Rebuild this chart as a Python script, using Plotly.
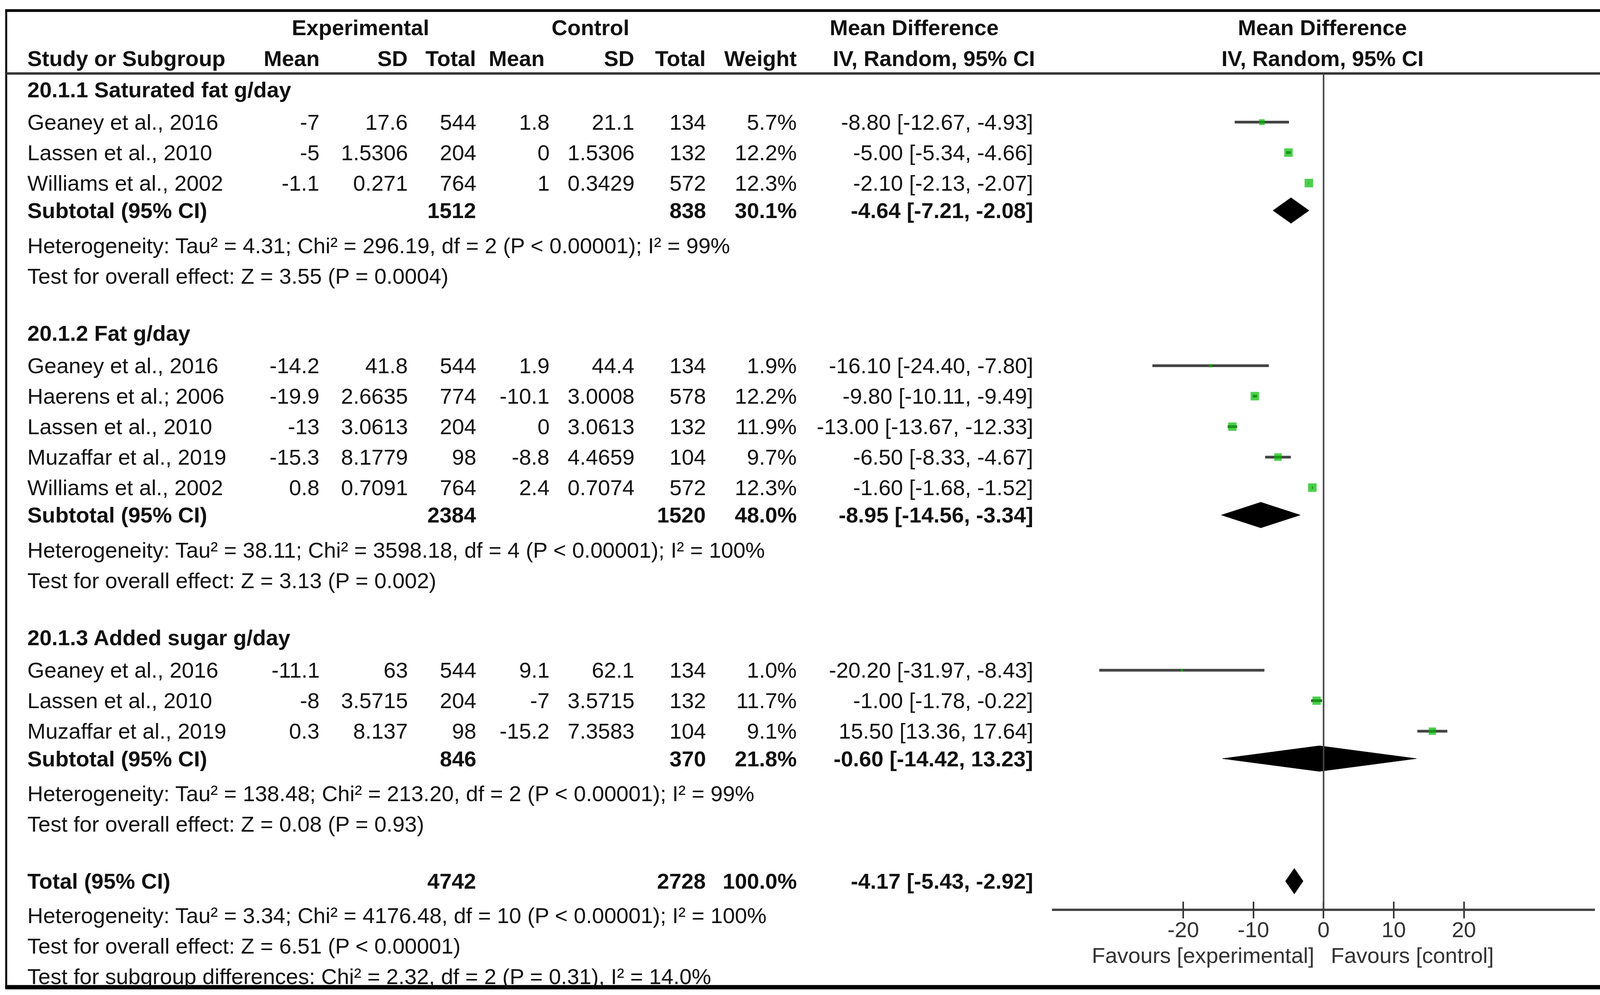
import math
import plotly.graph_objects as go

# ---- data ----
group_titles = ["20.1.1 Saturated fat g/day", "20.1.2 Fat g/day", "20.1.3 Added sugar g/day"]

study_group = [0, 0, 0, 1, 1, 1, 1, 1, 2, 2, 2]
study_names = [
    "Geaney et al., 2016", "Lassen et al., 2010", "Williams et al., 2002",
    "Geaney et al., 2016", "Haerens et al.; 2006", "Lassen et al., 2010",
    "Muzaffar et al., 2019", "Williams et al., 2002",
    "Geaney et al., 2016", "Lassen et al., 2010", "Muzaffar et al., 2019",
]
exp_mean = [-7, -5, -1.1, -14.2, -19.9, -13, -15.3, 0.8, -11.1, -8, 0.3]
exp_sd = [17.6, 1.5306, 0.271, 41.8, 2.6635, 3.0613, 8.1779, 0.7091, 63, 3.5715, 8.137]
exp_n = [544, 204, 764, 544, 774, 204, 98, 764, 544, 204, 98]
ctl_mean = [1.8, 0, 1, 1.9, -10.1, 0, -8.8, 2.4, 9.1, -7, -15.2]
ctl_sd = [21.1, 1.5306, 0.3429, 44.4, 3.0008, 3.0613, 4.4659, 0.7074, 62.1, 3.5715, 7.3583]
ctl_n = [134, 132, 572, 134, 578, 132, 104, 572, 134, 132, 104]
weight = [5.7, 12.2, 12.3, 1.9, 12.2, 11.9, 9.7, 12.3, 1.0, 11.7, 9.1]
md = [-8.80, -5.00, -2.10, -16.10, -9.80, -13.00, -6.50, -1.60, -20.20, -1.00, 15.50]
md_lo = [-12.67, -5.34, -2.13, -24.40, -10.11, -13.67, -8.33, -1.68, -31.97, -1.78, 13.36]
md_hi = [-4.93, -4.66, -2.07, -7.80, -9.49, -12.33, -4.67, -1.52, -8.43, -0.22, 17.64]

sub_exp_n = [1512, 2384, 846]
sub_ctl_n = [838, 1520, 370]
sub_weight = [30.1, 48.0, 21.8]
sub_md = [-4.64, -8.95, -0.60]
sub_lo = [-7.21, -14.56, -14.42]
sub_hi = [-2.08, -3.34, 13.23]
sub_het = [
    "Heterogeneity: Tau² = 4.31; Chi² = 296.19, df = 2 (P < 0.00001); I² = 99%",
    "Heterogeneity: Tau² = 38.11; Chi² = 3598.18, df = 4 (P < 0.00001); I² = 100%",
    "Heterogeneity: Tau² = 138.48; Chi² = 213.20, df = 2 (P < 0.00001); I² = 99%",
]
sub_test = [
    "Test for overall effect: Z = 3.55 (P = 0.0004)",
    "Test for overall effect: Z = 3.13 (P = 0.002)",
    "Test for overall effect: Z = 0.08 (P = 0.93)",
]

total_exp_n = 4742
total_ctl_n = 2728
total_weight = 100.0
total_md, total_lo, total_hi = -4.17, -5.43, -2.92
total_notes = [
    "Heterogeneity: Tau² = 3.34; Chi² = 4176.48, df = 10 (P < 0.00001); I² = 100%",
    "Test for overall effect: Z = 6.51 (P < 0.00001)",
    "Test for subgroup differences: Chi² = 2.32, df = 2 (P = 0.31), I² = 14.0%",
]

tick_vals = [-20, -10, 0, 10, 20]
tick_text = ["-20", "-10", "0", "10", "20"]
fav_left = "Favours [experimental]"
fav_right = "Favours [control]"

# ---- layout constants ----
W, H = 4157, 2546
ROW_PX = 78.0      # one table row in pixels
ROW0_PX = 229.0    # pixel position of the first subgroup title
FONT = "Liberation Sans, Arial, sans-serif"
FS = 56
TXT = "#111111"
GREEN = "#00bb00"
LINE = "#444444"
XMAX = 38.7


def xd(d):
    # position given on a 1568-wide sketch -> paper fraction
    return d / 1568.0


def yp(p):
    # pixel from top -> paper fraction
    return 1 - p / H


cols = {
    "name": xd(26), "em": xd(309), "esd": xd(394), "en": xd(460),
    "cm": xd(531), "csd": xd(613), "cn": xd(682), "w": xd(770), "ci": xd(998),
}

fmt = lambda v: f"{v:g}"
fmt_ci = lambda m, lo, hi: f"{m:.2f} [{lo:.2f}, {hi:.2f}]"

annotations = []


def txt(x, y, s, anchor="left", bold=False, yref="y", color=TXT):
    annotations.append(dict(
        x=x, y=y, xref="paper", yref=yref, text=f"<b>{s}</b>" if bold else s,
        showarrow=False, xanchor=anchor, yanchor="middle", borderpad=0,
        font=dict(family=FONT, size=FS, color=color)))


# ---- build row positions ----
r = 0.0
study_rows, sub_rows = [], []
for g, title in enumerate(group_titles):
    if g > 0:
        r += 1.87
    txt(cols["name"], r, title, bold=True)
    first = True
    for i, sg in enumerate(study_group):
        if sg != g:
            continue
        r += 1.07 if first else 1.0
        first = False
        study_rows.append(r)
        txt(cols["name"], r, study_names[i])
        txt(cols["em"], r, fmt(exp_mean[i]), "right")
        txt(cols["esd"], r, fmt(exp_sd[i]), "right")
        txt(cols["en"], r, fmt(exp_n[i]), "right")
        txt(cols["cm"], r, fmt(ctl_mean[i]), "right")
        txt(cols["csd"], r, fmt(ctl_sd[i]), "right")
        txt(cols["cn"], r, fmt(ctl_n[i]), "right")
        txt(cols["w"], r, f"{weight[i]:.1f}%", "right")
        txt(cols["ci"], r, fmt_ci(md[i], md_lo[i], md_hi[i]), "right")
    r += 0.9
    sub_rows.append(r)
    txt(cols["name"], r, "Subtotal (95% CI)", bold=True)
    txt(cols["en"], r, fmt(sub_exp_n[g]), "right", bold=True)
    txt(cols["cn"], r, fmt(sub_ctl_n[g]), "right", bold=True)
    txt(cols["w"], r, f"{sub_weight[g]:.1f}%", "right", bold=True)
    txt(cols["ci"], r, fmt_ci(sub_md[g], sub_lo[g], sub_hi[g]), "right", bold=True)
    r += 1.15
    txt(cols["name"], r, sub_het[g])
    r += 1.0
    txt(cols["name"], r, sub_test[g])

r += 1.87
total_row = r
txt(cols["name"], r, "Total (95% CI)", bold=True)
txt(cols["en"], r, fmt(total_exp_n), "right", bold=True)
txt(cols["cn"], r, fmt(total_ctl_n), "right", bold=True)
txt(cols["w"], r, f"{total_weight:.1f}%", "right", bold=True)
txt(cols["ci"], r, fmt_ci(total_md, total_lo, total_hi), "right", bold=True)
r += 1.12
for note in total_notes:
    txt(cols["name"], r, note)
    r += 1.0

# ---- header ----
h1, h2 = -2.03, -1.02
txt(xd(348), h1, "Experimental", "center", bold=True)
txt(xd(570), h1, "Control", "center", bold=True)
txt(xd(883), h1, "Mean Difference", "center", bold=True)
txt(xd(1277), h1, "Mean Difference", "center", bold=True)
txt(cols["name"], h2, "Study or Subgroup", bold=True)
for key, lab in [("em", "Mean"), ("esd", "SD"), ("en", "Total"), ("cm", "Mean"),
                 ("csd", "SD"), ("cn", "Total"), ("w", "Weight")]:
    txt(cols[key] - (xd(5) if key == "cm" else 0), h2, lab, "right", bold=True)
txt(xd(902), h2, "IV, Random, 95% CI", "center", bold=True)
txt(xd(1277), h2, "IV, Random, 95% CI", "center", bold=True)

# ---- forest plot traces ----
fig = go.Figure()

ci_x, ci_y = [], []
for lo, hi, yy in zip(md_lo, md_hi, study_rows):
    ci_x += [lo, hi, None]
    ci_y += [yy, yy, None]
fig.add_trace(go.Scatter(x=ci_x, y=ci_y, mode="lines", xaxis="x2", yaxis="y",
                         line=dict(color=LINE, width=7), hoverinfo="skip"))
fig.add_trace(go.Scatter(
    x=md, y=study_rows, mode="markers", xaxis="x2", yaxis="y",
    marker=dict(symbol="square", color=GREEN, size=[6.2 * math.sqrt(w) for w in weight],
                line=dict(width=0))))

DH = 0.42
for m, lo, hi, yy in list(zip(sub_md, sub_lo, sub_hi, sub_rows)) + [(total_md, total_lo, total_hi, total_row)]:
    fig.add_trace(go.Scatter(
        x=[lo, m, hi, m, lo], y=[yy, yy - DH, yy, yy + DH, yy], mode="lines",
        fill="toself", fillcolor="black", line=dict(color="black", width=1),
        xaxis="x2", yaxis="y", hoverinfo="skip"))

# empty traces so the overlay tick axes get drawn
fig.add_trace(go.Scatter(x=[], y=[], xaxis="x3", yaxis="y"))
fig.add_trace(go.Scatter(x=[], y=[], xaxis="x4", yaxis="y"))

axis_px = 2328
zero_c = 0.8151
half = XMAX * 6.775 / 1568
dom = [zero_c - half, zero_c + half]

fav_y = yp(2444)
annotations.append(dict(x=0, y=fav_y, xref="x2", yref="paper", text=fav_left, showarrow=False,
                        xanchor="right", yanchor="middle", xshift=-22, borderpad=0,
                        font=dict(family=FONT, size=FS, color="#333333")))
annotations.append(dict(x=0, y=fav_y, xref="x2", yref="paper", text=fav_right, showarrow=False,
                        xanchor="left", yanchor="middle", xshift=18, borderpad=0,
                        font=dict(family=FONT, size=FS, color="#333333")))

shapes = [
    # outer frame
    dict(type="line", xref="paper", yref="paper", x0=xd(5), x1=xd(1563), y0=yp(27), y1=yp(27),
         line=dict(color="black", width=7)),
    dict(type="line", xref="paper", yref="paper", x0=xd(5), x1=xd(1563), y0=yp(2526), y1=yp(2526),
         line=dict(color="black", width=11)),
    dict(type="line", xref="paper", yref="paper", x0=xd(6), x1=xd(6), y0=yp(27), y1=yp(2526),
         line=dict(color="black", width=5)),
    dict(type="line", xref="paper", yref="paper", x0=xd(1563), x1=xd(1563), y0=yp(27), y1=yp(2526),
         line=dict(color="black", width=6)),
    # header rule
    dict(type="line", xref="paper", yref="paper", x0=xd(6), x1=xd(1563), y0=yp(188), y1=yp(188),
         line=dict(color="#333333", width=6)),
    # line of no effect
    dict(type="line", xref="x2", yref="paper", x0=0, x1=0, y0=yp(188), y1=yp(axis_px),
         line=dict(color=LINE, width=4)),
]

tick_common = dict(tickmode="array", tickvals=tick_vals, ticklen=21, tickwidth=4,
                   tickcolor="#333333", showgrid=False, zeroline=False,
                   anchor="free", position=yp(axis_px))

fig.update_layout(
    width=W, height=H, margin=dict(l=0, r=0, t=0, b=0),
    paper_bgcolor="white", plot_bgcolor="white", showlegend=False,
    annotations=annotations, shapes=shapes,
    xaxis2=dict(domain=dom, range=[-XMAX, XMAX], anchor="free", position=yp(axis_px),
                showline=True, linecolor="#444444", linewidth=6, showgrid=False, zeroline=False,
                tickmode="array", tickvals=tick_vals, ticktext=tick_text, ticks="",
                tickfont=dict(family=FONT, size=FS, color="#333333")),
    xaxis3=dict(overlaying="x2", matches="x2", ticks="inside", showline=False,
                showticklabels=False, **tick_common),
    xaxis4=dict(overlaying="x2", matches="x2", ticks="outside", showline=False,
                showticklabels=False, **tick_common),
    yaxis=dict(range=[(H - ROW0_PX) / ROW_PX, -ROW0_PX / ROW_PX], domain=[0, 1],
               visible=False, showgrid=False, zeroline=False),
)

fig.write_html("out.html", config={"displayModeBar": False},
               post_script="document.body.style.margin='0';document.body.style.overflow='hidden';")
